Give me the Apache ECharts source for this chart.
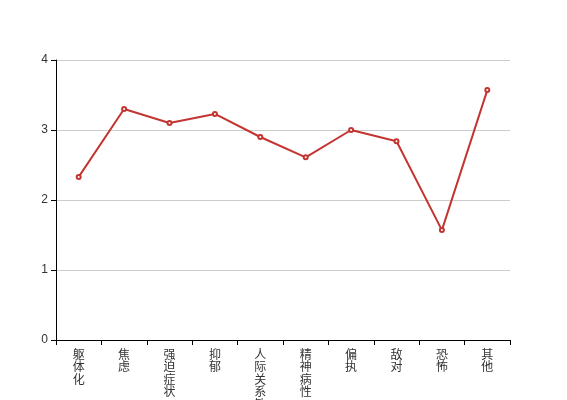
<!DOCTYPE html>
<html><head><meta charset="utf-8">
<script src="https://cdn.jsdelivr.net/npm/echarts@6/dist/echarts.min.js"></script>
<style>html,body{margin:0;padding:0;background:#fff}#c{width:567px;height:400px}</style>
</head><body><div id="c"></div>
<script>
var categories = ['躯体化','焦虑','强迫症状','抑郁','人际关系敏感','精神病性','偏执','敌对','恐怖','其他'];
var values = [2.33, 3.30, 3.10, 3.23, 2.90, 2.61, 3.00, 2.84, 1.57, 3.57];
var yTicks = [0, 1, 2, 3, 4];

var chart = echarts.init(document.getElementById('c'));
chart.setOption({
  animation: false,
  grid: {left: 56, right: 57, top: 60, bottom: 60, containLabel: false, outerBoundsMode: 'none'},
  xAxis: {
    type: 'category',
    data: categories,
    axisLine: {lineStyle: {color: '#000'}},
    axisTick: {show: true, alignWithLabel: false, lineStyle: {color: '#000'}},
    axisLabel: {
      interval: 0, color: '#333', fontSize: 12, lineHeight: 12.5,
      fontFamily: 'Noto Sans CJK SC', margin: 8,
      formatter: function (v) { return v.split('').join('\n'); }
    }
  },
  yAxis: {
    type: 'value', min: yTicks[0], max: yTicks[yTicks.length - 1], interval: 1,
    axisLine: {show: true, lineStyle: {color: '#000'}},
    axisTick: {show: true, lineStyle: {color: '#000'}},
    axisLabel: {color: '#333', fontSize: 12},
    splitLine: {lineStyle: {color: '#ccc'}}
  },
  series: [{
    type: 'line', data: values,
    symbol: 'emptyCircle', symbolSize: 4,
    lineStyle: {color: '#c23531', width: 2},
    itemStyle: {color: '#c23531'}
  }]
});
</script></body></html>
